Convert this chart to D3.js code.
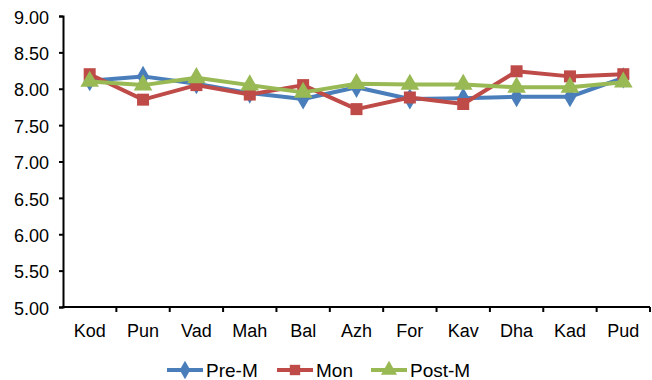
<!DOCTYPE html>
<html>
<head>
<meta charset="utf-8">
<script src="https://cdn.jsdelivr.net/npm/d3@7"></script>
<style>
  html, body { margin: 0; padding: 0; background: #fff; }
  svg { display: block; font-family: "Liberation Sans", Arial, sans-serif; }
</style>
</head>
<body>
<svg id="chart" width="652" height="380"></svg>
<script>
const categories = ["Kod", "Pun", "Vad", "Mah", "Bal", "Azh", "For", "Kav", "Dha", "Kad", "Pud"];
const preM  = [8.11, 8.17, 8.07, 7.94, 7.86, 8.02, 7.86, 7.87, 7.89, 7.89, 8.15];
const mon   = [8.20, 7.85, 8.05, 7.92, 8.05, 7.72, 7.88, 7.79, 8.24, 8.17, 8.20];
const postM = [8.10, 8.05, 8.15, 8.05, 7.95, 8.07, 8.06, 8.06, 8.02, 8.02, 8.09];
const yTicks = [5.0, 5.5, 6.0, 6.5, 7.0, 7.5, 8.0, 8.5, 9.0];
const seriesNames = ["Pre-M", "Mon", "Post-M"];
const seriesColors = ["#4A7EBB", "#BE4B48", "#98B954"];
const seriesShapes = [d3.symbolDiamond, d3.symbolSquare, d3.symbolTriangle];
const seriesData = [preM, mon, postM];

(function () {
const svg = d3.select("#chart");
const mLeft = 63, mRight = 650, mTop = 16, mBottom = 307;

const x = d3.scaleBand().domain(categories).range([mLeft, mRight]).padding(0);
const y = d3.scaleLinear().domain([5, 9]).range([mBottom, mTop]);

// Y axis
const yAxis = d3.axisLeft(y).tickValues(yTicks).tickFormat(d3.format(".2f")).tickSizeOuter(0).tickSize(4).tickPadding(10);
const gy = svg.append("g").attr("transform", `translate(${mLeft},0)`).call(yAxis);
gy.select(".domain").attr("stroke", "#000").attr("stroke-width", 2);
gy.selectAll(".tick line").attr("stroke", "#000").attr("stroke-width", 2);
gy.selectAll(".tick text").attr("font-size", 18).attr("fill", "#000").attr("dy", "0.4em")
  .attr("font-family", "Liberation Sans, Arial, sans-serif");

// X axis (ticks at category boundaries)
const gx = svg.append("g").attr("transform", `translate(0,${mBottom})`);
gx.append("line").attr("x1", mLeft - 1).attr("x2", mRight).attr("y1", 0).attr("y2", 0)
  .attr("stroke", "#000").attr("stroke-width", 2);
const boundaries = categories.map(c => x(c)).concat([x(categories[categories.length - 1]) + x.bandwidth()]);
gx.selectAll("line.tk").data(boundaries.slice(1)).join("line").attr("class", "tk")
  .attr("x1", d => d).attr("x2", d => d).attr("y1", 0).attr("y2", 5)
  .attr("stroke", "#000").attr("stroke-width", 2);
gx.selectAll("text").data(categories).join("text")
  .attr("x", d => x(d) + x.bandwidth() / 2)
  .attr("y", 30)
  .attr("text-anchor", "middle")
  .attr("font-size", 18)
  .attr("fill", "#000")
  .text(d => d);

// Series
const line = d3.line().x((d, i) => x(categories[i]) + x.bandwidth() / 2).y(d => y(d));
const symSizes = [130, 144, 150];
seriesData.forEach((data, s) => {
  const g = svg.append("g");
  g.append("path").datum(data).attr("d", line).attr("fill", "none")
    .attr("stroke", seriesColors[s]).attr("stroke-width", 4).attr("stroke-linejoin", "round");
  g.selectAll("path.m").data(data).join("path").attr("class", "m")
    .attr("d", d3.symbol().type(seriesShapes[s]).size(symSizes[s]))
    .attr("transform", (d, i) => `translate(${x(categories[i]) + x.bandwidth() / 2},${y(d)})`)
    .attr("fill", seriesColors[s]);
});

// Legend
const legendX = [167, 277, 371];
const legendY = 370;
seriesNames.forEach((name, s) => {
  const g = svg.append("g").attr("transform", `translate(${legendX[s]},${legendY})`);
  g.append("line").attr("x1", 0).attr("x2", 36).attr("y1", 0).attr("y2", 0)
    .attr("stroke", seriesColors[s]).attr("stroke-width", 4);
  g.append("path").attr("d", d3.symbol().type(seriesShapes[s]).size(symSizes[s] * 0.75))
    .attr("transform", "translate(18,0)").attr("fill", seriesColors[s]);
  g.append("text").attr("x", 39).attr("y", 7).attr("font-size", 19).attr("fill", "#000").text(name);
});
})();
</script>
</body>
</html>
